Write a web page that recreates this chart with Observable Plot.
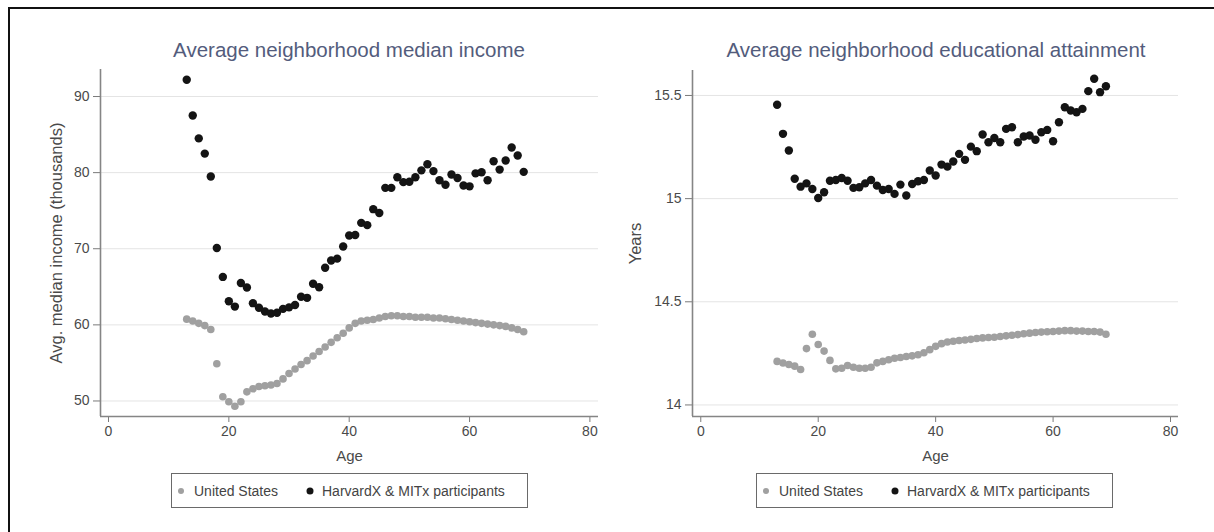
<!DOCTYPE html>
<html>
<head>
<meta charset="utf-8">
<script src="https://cdn.jsdelivr.net/npm/d3@7"></script>
<script src="https://cdn.jsdelivr.net/npm/@observablehq/plot@0.6"></script>
<style>
  html, body { margin: 0; padding: 0; background: #fff; }
  #wrap { position: relative; width: 1214px; height: 532px; overflow: hidden; background: #fff;
          font-family: "Liberation Sans", Arial, sans-serif; }
  .frame { position: absolute; left: 8px; top: 7px; width: 1240px; height: 620px;
           border: 2px solid #111; box-sizing: border-box; }
  .panel { position: absolute; top: 0; }
  .title { position: absolute; top: 40px; font-size: 20.5px; line-height: 1; color: #535c7c;
           white-space: nowrap; transform: translateX(-50%); }
  .legend { position: absolute; top: 473px; height: 35px; width: 357px; border: 1.5px solid #6a6a6a;
            box-sizing: border-box; font-size: 14px; color: #444; }
  .legend .dot { position: absolute; top: 50%; border-radius: 50%; transform: translate(-50%, -50%); }
  .legend .lab { position: absolute; top: 50%; transform: translateY(-50%); white-space: nowrap; line-height: 1; }
</style>
</head>
<body>
<div id="wrap">
  <div class="frame"></div>
</div>
<script>
// ---- data ----
const ages = [13,14,15,16,17,18,19,20,21,22,23,24,25,26,27,28,29,30,31,32,33,34,35,36,37,38,39,40,41,
              42,43,44,45,46,47,48,49,50,51,52,53,54,55,56,57,58,59,60,61,62,63,64,65,66,67,68,69];

const seriesNames = ["United States", "HarvardX & MITx participants"];

// Panel 1: average neighborhood median income (thousands)
const incomeUS = [60.75,60.5,60.2,59.9,59.4,54.9,50.55,49.9,49.3,49.9,51.2,51.6,51.9,52.0,52.1,52.3,
                  52.9,53.6,54.2,54.8,55.3,55.9,56.5,57.1,57.7,58.3,58.9,59.6,60.2,60.5,60.6,60.7,60.9,
                  61.1,61.2,61.2,61.1,61.1,61.0,61.0,61.0,60.9,60.9,60.8,60.7,60.6,60.5,60.4,60.3,60.2,
                  60.1,60.0,59.9,59.8,59.6,59.4,59.1];
const incomeHX = [92.2,87.5,84.5,82.5,79.5,70.1,66.3,63.1,62.4,65.5,64.9,62.85,62.25,61.75,61.5,61.6,
                  62.1,62.3,62.6,63.7,63.55,65.4,64.95,67.5,68.45,68.7,70.3,71.75,71.8,73.4,73.1,75.2,
                  74.7,78.0,78.0,79.4,78.75,78.8,79.4,80.3,81.1,80.2,79.0,78.4,79.75,79.3,78.3,78.2,
                  79.9,80.05,79.0,81.5,80.4,81.6,83.3,82.25,80.1];

// Panel 2: average neighborhood educational attainment (years)
const eduUS = [14.211,14.203,14.196,14.188,14.172,14.273,14.343,14.293,14.261,14.216,14.175,14.178,
               14.191,14.183,14.178,14.178,14.183,14.204,14.211,14.219,14.226,14.230,14.235,14.238,
               14.243,14.253,14.268,14.284,14.297,14.305,14.309,14.312,14.315,14.318,14.322,14.325,
               14.327,14.328,14.332,14.335,14.338,14.341,14.345,14.348,14.351,14.353,14.355,14.356,
               14.358,14.360,14.360,14.358,14.358,14.356,14.356,14.353,14.343];
const eduHX = [15.455,15.314,15.233,15.096,15.058,15.074,15.047,15.003,15.031,15.087,15.090,15.100,
               15.087,15.052,15.055,15.074,15.090,15.063,15.042,15.047,15.023,15.068,15.015,15.071,
               15.084,15.090,15.136,15.112,15.165,15.155,15.180,15.217,15.188,15.252,15.230,15.311,
               15.273,15.294,15.273,15.338,15.346,15.273,15.301,15.306,15.285,15.322,15.333,15.278,
               15.370,15.443,15.427,15.419,15.435,15.521,15.581,15.516,15.545];

const xTicks = [0, 20, 40, 60, 80];
const incomeTicks = [50, 60, 70, 80, 90];
const eduTicks = [14, 14.5, 15, 15.5];

const titles = ["Average neighborhood median income", "Average neighborhood educational attainment"];
const yLabels = ["Avg. median income (thousands)", "Years"];

// ---- drawing ----
const FONT = '"Liberation Sans", Arial, sans-serif';
const GRAY = "#a0a0a0", BLACK = "#141414";

function rows(vals) { return ages.map((a, i) => ({age: a, value: vals[i]})); }

function panel(cfg) {
  const {us, hx, ticks, yDomain, xDomain, yLabel, yLabelOffset, marginLeft, marginRight, marginTop} = cfg;
  const svg = Plot.plot({
    width: 607, height: 470,
    marginLeft, marginRight, marginTop, marginBottom: 54,
    style: {fontFamily: FONT, fontSize: "14px", color: "#444", background: "transparent", overflow: "visible"},
    x: {domain: xDomain},
    y: {domain: yDomain},
    marks: [
      Plot.gridY(ticks, {stroke: "#e4e4e4", strokeOpacity: 1, strokeWidth: 1}),
      Plot.axisX(xTicks, {tickSize: 6, tickPadding: 4, stroke: "#7a7a7a", fill: "#4a4a4a",
        tickFormat: d => `${d}`, label: "Age", labelAnchor: "center", labelOffset: 44, labelArrow: "none"}),
      Plot.axisY(ticks, {tickSize: 7, tickPadding: 4, stroke: "#7a7a7a", fill: "#4a4a4a",
        tickFormat: d => `${d}`, label: yLabel, labelAnchor: "center", labelOffset: yLabelOffset, labelArrow: "none"}),
      Plot.ruleX([xDomain[0]], {stroke: "#858585", strokeWidth: 1.6}),
      Plot.ruleY([yDomain[0]], {stroke: "#858585", strokeWidth: 1.6}),
      Plot.dot(rows(us), {x: "age", y: "value", r: 3.8, fill: GRAY, stroke: "none"}),
      Plot.dot(rows(hx), {x: "age", y: "value", r: 4.2, fill: BLACK, stroke: "none"})
    ]
  });
  const lab = svg.querySelector('[aria-label="y-axis label"]');
  if (lab) lab.setAttribute("font-size", "16.5");
  const xl = svg.querySelector('[aria-label="x-axis label"]');
  if (xl) xl.setAttribute("font-size", "15");
  return svg;
}

const wrap = document.getElementById("wrap");

const p1 = panel({us: incomeUS, hx: incomeHX, ticks: incomeTicks,
  xDomain: [-1.33, 81.43], yDomain: [47.96, 93.55],
  yLabel: yLabels[0], yLabelOffset: 50, marginLeft: 100, marginRight: 9, marginTop: 69});
p1.classList.add("panel"); p1.style.left = "0px";
wrap.appendChild(p1);

const p2 = panel({us: eduUS, hx: eduHX, ticks: eduTicks,
  xDomain: [-1.41, 81.36], yDomain: [13.944, 15.621],
  yLabel: yLabels[1], yLabelOffset: 63, marginLeft: 85, marginRight: 36, marginTop: 70});
p2.classList.add("panel"); p2.style.left = "607px";
wrap.appendChild(p2);

// titles
[[titles[0], 349], [titles[1], 936]].forEach(([t, cx]) => {
  const d = document.createElement("div");
  d.className = "title"; d.textContent = t; d.style.left = cx + "px";
  wrap.appendChild(d);
});

// legends
[171, 756].forEach(left => {
  const box = document.createElement("div");
  box.className = "legend"; box.style.left = left + "px";
  const items = [
    {name: seriesNames[0], color: GRAY, size: 6, dot: 9, text: 22},
    {name: seriesNames[1], color: BLACK, size: 7, dot: 137.5, text: 150}
  ];
  items.forEach(it => {
    const dot = document.createElement("span");
    dot.className = "dot";
    dot.style.left = it.dot + "px"; dot.style.width = it.size + "px"; dot.style.height = it.size + "px";
    dot.style.background = it.color;
    const tx = document.createElement("span");
    tx.className = "lab"; tx.style.left = it.text + "px"; tx.textContent = it.name;
    box.appendChild(dot); box.appendChild(tx);
  });
  wrap.appendChild(box);
});
</script>
</body>
</html>
